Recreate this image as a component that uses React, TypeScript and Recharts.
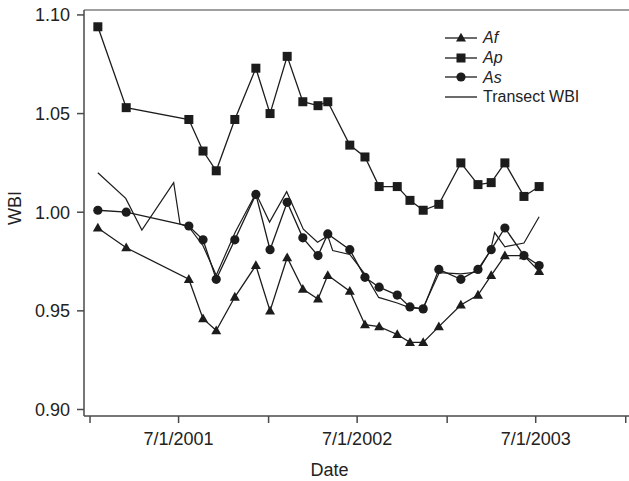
import React from 'react';
import * as R from 'recharts';
import { LineChart, Line, XAxis, YAxis, Legend } from 'recharts';

// ---------- data ----------
const sampleDates = [
  '2001-01-17', '2001-03-16', '2001-07-22', '2001-08-20', '2001-09-16', '2001-10-24', '2001-12-06',
  '2002-01-04', '2002-02-08', '2002-03-12', '2002-04-12', '2002-05-02', '2002-06-16', '2002-07-17',
  '2002-08-15', '2002-09-21', '2002-10-17', '2002-11-13', '2002-12-15', '2003-01-29', '2003-03-05',
  '2003-04-01', '2003-04-29', '2003-06-07', '2003-07-08',
];
const afValues = [
  0.992, 0.982, 0.966, 0.946, 0.940, 0.957, 0.973, 0.950, 0.977, 0.961, 0.956, 0.968, 0.960,
  0.943, 0.942, 0.938, 0.934, 0.934, 0.942, 0.953, 0.958, 0.968, 0.978, 0.978, 0.970,
];
const apValues = [
  1.094, 1.053, 1.047, 1.031, 1.021, 1.047, 1.073, 1.050, 1.079, 1.056, 1.054, 1.056, 1.034,
  1.028, 1.013, 1.013, 1.006, 1.001, 1.004, 1.025, 1.014, 1.015, 1.025, 1.008, 1.013,
];
const asValues = [
  1.001, 1.000, 0.993, 0.986, 0.966, 0.986, 1.009, 0.981, 1.005, 0.987, 0.978, 0.989, 0.981,
  0.967, 0.962, 0.958, 0.952, 0.951, 0.971, 0.966, 0.971, 0.981, 0.992, 0.978, 0.973,
];
const transectDates = [
  '2001-01-17', '2001-03-15', '2001-04-17', '2001-06-21', '2001-07-04', '2001-07-22', '2001-08-20',
  '2001-09-16', '2001-10-25', '2001-12-06', '2002-01-03', '2002-02-07', '2002-03-13', '2002-04-11',
  '2002-05-02', '2002-05-12', '2002-06-16', '2002-07-18', '2002-08-14', '2002-09-21', '2002-10-17',
  '2002-11-12', '2002-12-16', '2003-01-29', '2003-03-04', '2003-03-31', '2003-04-08', '2003-04-29',
  '2003-06-07', '2003-07-08',
];
const transectValues = [
  1.020, 1.007, 0.991, 1.015, 0.994, 0.9925, 0.983, 0.968, 0.990, 1.0096, 0.995, 1.0104, 0.9914,
  0.9848, 0.988, 0.9806, 0.9786, 0.9682, 0.9568, 0.954, 0.9515, 0.9511, 0.9694, 0.9687, 0.9697,
  0.9809, 0.9897, 0.9825, 0.9844, 0.9977,
];
const xTickDates = ['2001-01-01', '2001-07-01', '2002-01-01', '2002-07-01', '2003-01-01', '2003-07-01', '2004-01-01'];
const yTicks = [0.9, 0.95, 1.0, 1.05, 1.1];
const seriesNames = ['Af', 'Ap', 'As', 'Transect WBI'];

// ---------- helpers ----------
const DAY = 86400000;
const toT = (s: string) => Date.parse(s + 'T00:00:00Z');
const build = (dates: string[], vals: number[]) => dates.map((d, i) => ({ t: toT(d), v: vals[i] }));

const afData = build(sampleDates, afValues);
const apData = build(sampleDates, apValues);
const asData = build(sampleDates, asValues);
const trData = build(transectDates, transectValues);
const xTicks = xTickDates.map(toT);
const xDomain = [toT('2001-01-01') - 12.3 * DAY, toT('2004-01-01') + 6.7 * DAY];
const yDomain = [0.8967, 1.1025];

const INK = '#1c1c1c';
const AXIS = '#4a4a4a';
const FONT = '"Liberation Sans", Arial, Helvetica, sans-serif';

const fmtX = (t: number) => {
  const d = new Date(t);
  if (d.getUTCMonth() !== 6) return '';
  return `${d.getUTCMonth() + 1}/${d.getUTCDate()}/${d.getUTCFullYear()}`;
};

const Tri = (p: any) =>
  p.cx == null ? null : (
    <path key={`tri-${p.index}`} d={`M${p.cx},${p.cy - 5.2} L${p.cx + 5},${p.cy + 3.6} L${p.cx - 5},${p.cy + 3.6} Z`} fill={INK} />
  );
const Sq = (p: any) =>
  p.cx == null ? null : <rect key={`sq-${p.index}`} x={p.cx - 4.5} y={p.cy - 4.5} width={9} height={9} fill={INK} />;
const Circ = (p: any) => (p.cx == null ? null : <circle key={`ci-${p.index}`} cx={p.cx} cy={p.cy} r={4.6} fill={INK} />);

const markerFor = (name: string, cx: number, cy: number) => {
  if (name === 'Af') return <Tri cx={cx} cy={cy} index={0} />;
  if (name === 'Ap') return <Sq cx={cx} cy={cy} index={0} />;
  if (name === 'As') return <Circ cx={cx} cy={cy} index={0} />;
  return null;
};

const LegendContent = () => (
  <div style={{ fontFamily: FONT, fontSize: 16, color: '#222' }}>
    {seriesNames.map((n) => (
      <div key={n} style={{ display: 'flex', alignItems: 'center', height: 19.7 }}>
        <svg width={32} height={12} style={{ display: 'block' }}>
          <line x1={0} y1={6} x2={32} y2={6} stroke={INK} strokeWidth={1.3} />
          {markerFor(n, 16, 6)}
        </svg>
        <span style={{ marginLeft: 6, fontStyle: n === 'Transect WBI' ? 'normal' : 'italic', lineHeight: '19px' }}>{n}</span>
      </div>
    ))}
  </div>
);

const YLabel = (props: any) => {
  const vb = props.viewBox || { x: 0, y: 0, width: 0, height: 0 };
  const x = 15;
  const y = vb.y + vb.height / 2 - 5;
  return (
    <text x={x} y={y} transform={`rotate(-90, ${x}, ${y})`} textAnchor="middle" dominantBaseline="central"
      fontFamily={FONT} fontSize={18} fill="#222">WBI</text>
  );
};

const XLabel = (props: any) => {
  const vb = props.viewBox || { x: 0, y: 0, width: 0, height: 0 };
  const x = vb.x + vb.width / 2 - 27;
  return (
    <text x={x} y={470} textAnchor="middle" dominantBaseline="central" fontFamily={FONT} fontSize={18} fill="#222">Date</text>
  );
};

// top frame line of the plot area, drawn from the chart's own plot-area geometry
const usePA: any = (R as any).usePlotArea || (R as any).useOffset || (() => null);
const TopFrame = () => {
  const pa: any = usePA();
  if (!pa) return null;
  const left = pa.x != null ? pa.x : pa.left;
  const top = pa.y != null ? pa.y : pa.top;
  const w = pa.width;
  if (left == null || top == null || w == null) return null;
  return <line x1={left} y1={top} x2={left + w} y2={top} stroke="#808080" strokeWidth={1.4} />;
};

export default function App() {
  return (
    <div style={{ position: 'absolute', left: 0, top: 0, background: '#fff' }}>
      <LineChart width={629} height={481} margin={{ top: 10, right: 0, bottom: 0, left: 0 }}>
        <TopFrame />
        <XAxis
          xAxisId="main"
          dataKey="t"
          type="number"
          domain={xDomain}
          allowDataOverflow
          ticks={xTicks}
          interval={0}
          tickFormatter={fmtX}
          height={65}
          tickSize={7}
          tickMargin={9}
          stroke={AXIS}
          strokeWidth={1.5}
          tick={{ fill: '#222', fontSize: 18, fontFamily: FONT }}
          label={<XLabel />}
        />
        <YAxis
          type="number"
          domain={yDomain}
          allowDataOverflow
          ticks={yTicks}
          interval={0}
          tickFormatter={(v: number) => v.toFixed(2)}
          width={84}
          tickSize={7}
          tickMargin={7}
          stroke={AXIS}
          strokeWidth={1.5}
          tick={{ fill: '#222', fontSize: 18, fontFamily: FONT }}
          label={<YLabel />}
        />
        <Legend
          layout="vertical"
          align="center"
          verticalAlign="middle"
          content={<LegendContent />}
          wrapperStyle={{ left: 445, top: 28, width: 180, height: 'auto' }}
        />
        <Line xAxisId="main" data={trData} dataKey="v" name="Transect WBI" stroke={INK} strokeWidth={1.2} dot={false} activeDot={false} isAnimationActive={false} type="linear" />
        <Line xAxisId="main" data={afData} dataKey="v" name="Af" stroke={INK} strokeWidth={1.3} dot={Tri} activeDot={false} isAnimationActive={false} type="linear" />
        <Line xAxisId="main" data={apData} dataKey="v" name="Ap" stroke={INK} strokeWidth={1.3} dot={Sq} activeDot={false} isAnimationActive={false} type="linear" />
        <Line xAxisId="main" data={asData} dataKey="v" name="As" stroke={INK} strokeWidth={1.3} dot={Circ} activeDot={false} isAnimationActive={false} type="linear" />
      </LineChart>
    </div>
  );
}
